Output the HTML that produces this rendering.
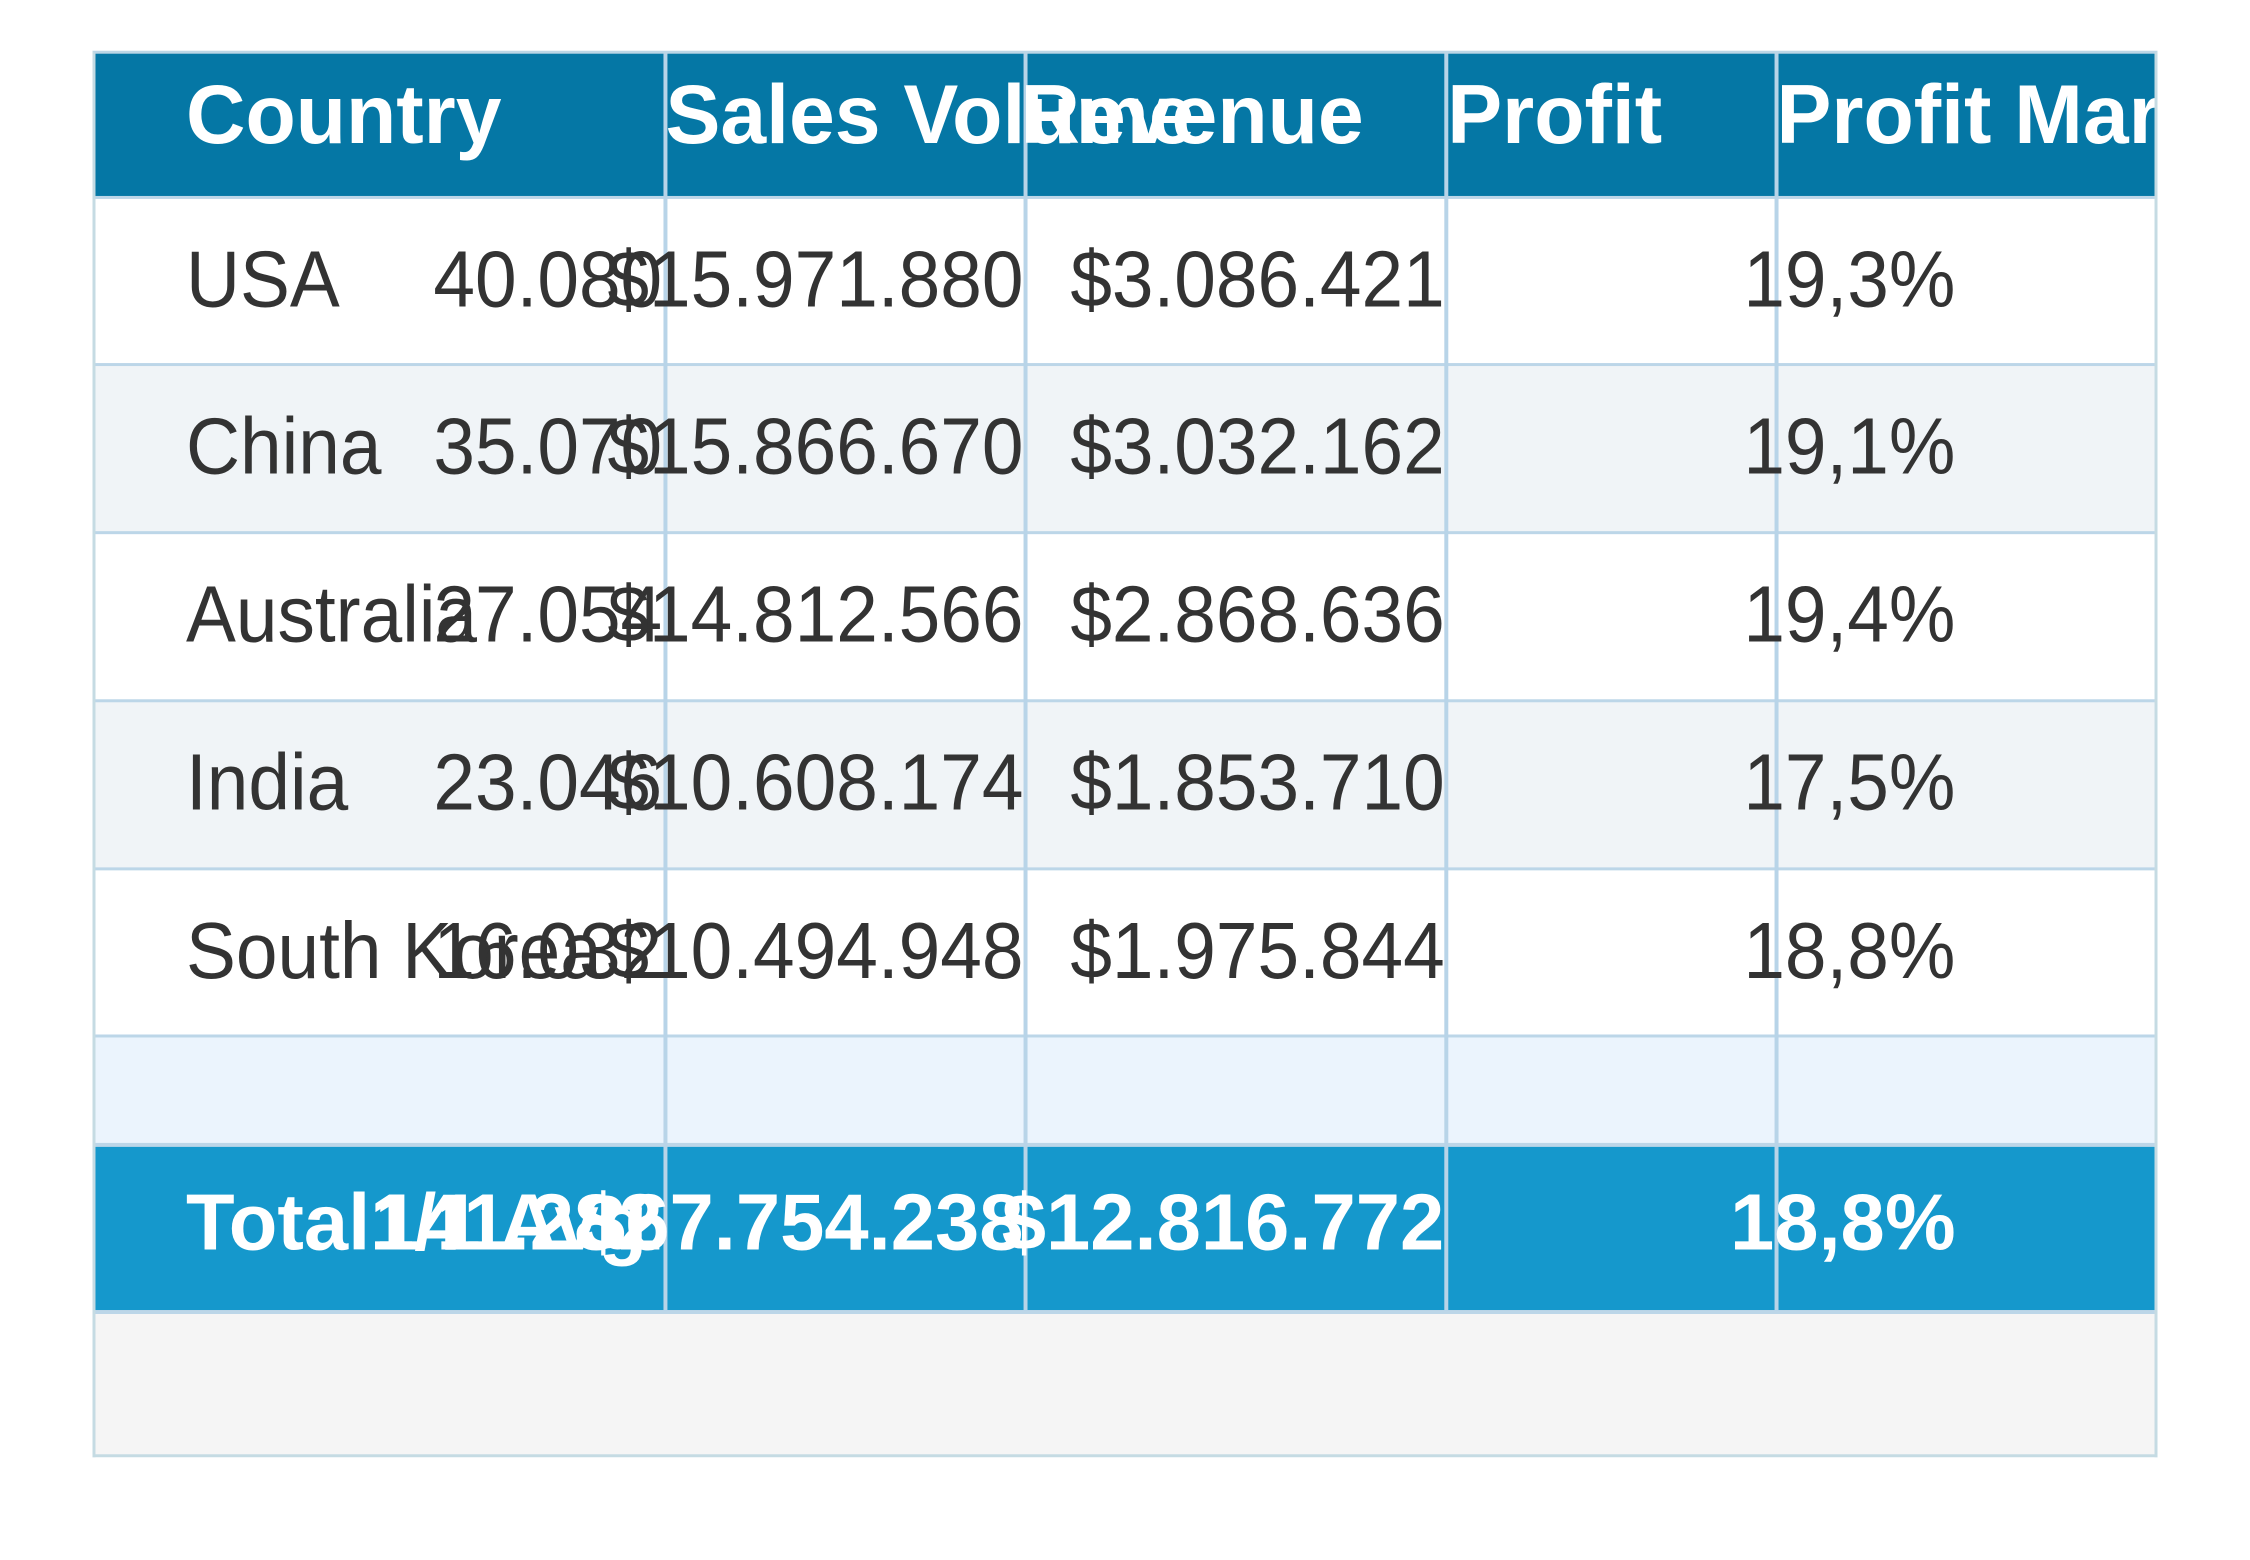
<!DOCTYPE html>
<html><head><meta charset="utf-8"><style>
body{margin:0;width:2250px;height:1560px;background:#fff;position:relative;overflow:hidden;font-family:"Liberation Sans",sans-serif}
#wrap{position:absolute;left:0;top:0;width:2250px;height:1560px;transform:scale(0.9947);transform-origin:0 0}
.bg{position:absolute;left:94px;width:2072px}
.vl{position:absolute;width:4px;background:#b8d4e8}
.hl{position:absolute;left:94px;width:2072px;height:3px;background:#bcd6e8}
.t{position:absolute;white-space:nowrap;font-size:80px;color:#333;line-height:1}
.h{position:absolute;white-space:nowrap;font-size:84px;font-weight:bold;color:#fff;line-height:1;top:73px;transform:scaleX(0.985);transform-origin:0 0}
.b{font-weight:bold;color:#fff}
</style></head><body>
<div id="wrap">
<div class="bg" style="top:52px;height:146px;background:#0577a5"></div>
<div class="bg" style="top:198px;height:168px;background:#fff"></div>
<div class="bg" style="top:366px;height:169px;background:#f0f4f7"></div>
<div class="bg" style="top:535px;height:169px;background:#fff"></div>
<div class="bg" style="top:704px;height:169px;background:#f0f4f7"></div>
<div class="bg" style="top:873px;height:168px;background:#fff"></div>
<div class="bg" style="top:1041px;height:110px;background:#ebf4fd"></div>
<div class="bg" style="top:1151px;height:167px;background:#1598cc"></div>
<div class="bg" style="top:1318px;height:144px;background:#f5f5f5"></div>

<div class="hl" style="top:197px"></div><div class="hl" style="top:365px"></div><div class="hl" style="top:534px"></div><div class="hl" style="top:703px"></div><div class="hl" style="top:872px"></div><div class="hl" style="top:1040px"></div><div class="hl" style="top:1149px;height:4px"></div><div class="hl" style="top:1317px;height:4px"></div>
<div class="vl" style="left:667px;top:52px;height:1266px"></div>
<div class="vl" style="left:1029px;top:52px;height:1266px"></div>
<div class="vl" style="left:1452px;top:52px;height:1266px"></div>
<div class="vl" style="left:1784px;top:52px;height:1266px"></div>
<div style="position:absolute;left:93px;top:51px;width:2070px;height:1408px;border:3px solid #c5dbe3;border-top-color:#bcd6e6"></div>

<div class="h" style="left:187px">Country</div>
<div class="h" style="left:669px">Sales Volume</div>
<div class="h" style="left:1026px">Revenue</div>
<div class="h" style="left:1455px">Profit</div>
<div style="position:absolute;left:1782px;top:52px;width:384px;height:146px;overflow:hidden"><div class="h" style="left:4px;top:21px">Profit Margin</div></div>

<div id="rows"></div>
</div>
<script>
const countries=["USA","China","Australia","India","South Korea"];
const volumes=["40.080","35.070","27.054","23.046","16.032"];
const revenues=["$15.971.880","$15.866.670","$14.812.566","$10.608.174","$10.494.948"];
const profits=["$3.086.421","$3.032.162","$2.868.636","$1.853.710","$1.975.844"];
const margins=["19,3%","19,1%","19,4%","17,5%","18,8%"];
const rowTops=[198,366,535,704,873];
const root=document.getElementById('rows');
function txt(s,left,right,top,bold,name){
  const d=document.createElement('div');
  d.className='t'+(bold?' b':'');
  d.textContent=s;
  d.style.top=top+'px';
  const sx=bold?1.0:0.94;
  if(left!=null){d.style.left=left+'px';d.style.transformOrigin='0 0';}
  else{d.style.right=(2250-right)+'px';d.style.transformOrigin='100% 0';}
  d.style.transform='scaleX('+sx+')';
  
  
  root.appendChild(d);
}
countries.forEach((c,i)=>{
  const y=rowTops[i]+43;
  txt(c,187,null,y,false,'cell-country');
  txt(volumes[i],null,666,y,false,'cell-sales-volume');
  txt(revenues[i],null,1029,y,false,'cell-revenue');
  txt(profits[i],null,1452,y,false,'cell-profit');
  txt(margins[i],null,1966,y,false,'cell-profit-margin');
});
const ty=1151+38;
txt("Total",187,null,ty,true,'total-label');
txt("1/1 Avg",372,null,ty,true,'total-avg-label');
txt("141.282",null,666,ty,true,'total-sales-volume');
txt("$67.754.238",null,1029,ty,true,'total-revenue');
txt("$12.816.772",null,1452,ty,true,'total-profit');
txt("18,8%",null,1966,ty,true,'total-profit-margin');
</script>
</body></html>
